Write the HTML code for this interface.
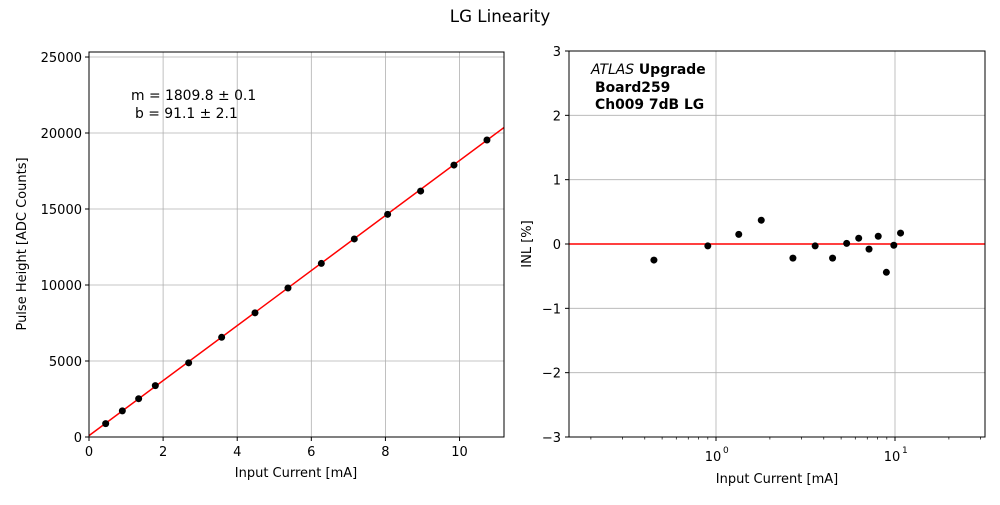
<!DOCTYPE html>
<html><head><meta charset="utf-8"><style>
body{margin:0;background:#fff;width:1000px;height:500px;overflow:hidden}
text{font-family:"DejaVu Sans","Liberation Sans",sans-serif;font-size:13px;fill:#000}
</style></head><body>
<svg id="chart" width="1000" height="500" xmlns="http://www.w3.org/2000/svg">
<text x="500" y="22" text-anchor="middle" style="font-size:16.7px">LG Linearity</text>
<g id="left"></g>
<g id="right"></g>
</svg>
<script>
const currents=[0.45,0.9,1.34,1.79,2.69,3.58,4.48,5.37,6.27,7.16,8.06,8.95,9.85,10.74];
const slope=1809.8, intercept=91.1;
const pulseHeights=[880,1720,2520,3380,4880,6560,8170,9800,11420,13030,14650,16180,17890,19540];
const inlValues=[-0.25,-0.03,0.15,0.37,-0.22,-0.03,-0.22,0.01,0.09,-0.08,0.12,-0.44,-0.02,0.17];
const leftXTicks=[0,2,4,6,8,10];
const leftYTicks=[0,5000,10000,15000,20000,25000];
const rightYTicks=[-3,-2,-1,0,1,2,3];
const rightYLabels=["\u22123","\u22122","\u22121","0","1","2","3"];
const NS="http://www.w3.org/2000/svg";
function mk(p,t,a){const e=document.createElementNS(NS,t);for(const k in a)e.setAttribute(k,a[k]);p.appendChild(e);return e;}
// Left panel
const L=document.getElementById('left');
const lx=v=>89+(v-0)/(11.2)*(504-89);
const ly=v=>437-v/25330*(437-52);
for(const t of leftXTicks){const X=lx(t);
 const g=mk(L,'line',{x1:X,x2:X,y1:52,y2:437,stroke:'#b0b0b0','stroke-width':0.8});
 mk(L,'line',{x1:X,x2:X,y1:437,y2:441,stroke:'#000'});
 const tx=mk(L,'text',{x:X,y:456,'text-anchor':'middle'});tx.textContent=t;}
for(const t of leftYTicks){const Y=ly(t);
 const g=mk(L,'line',{x1:89,x2:504,y1:Y,y2:Y,stroke:'#b0b0b0','stroke-width':0.8});
 mk(L,'line',{x1:85,x2:89,y1:Y,y2:Y,stroke:'#000'});
 const tx=mk(L,'text',{x:82,y:Y+5,'text-anchor':'end'});tx.textContent=t;}
const fit=mk(L,'line',{x1:lx(0),y1:ly(intercept),x2:lx(11.2),y2:ly(slope*11.2+intercept),stroke:'red','stroke-width':1.5});

currents.forEach((c,i)=>{const p=mk(L,'circle',{cx:lx(c),cy:ly(pulseHeights[i]),r:3.5,fill:'#000'});
 });
const fr=mk(L,'rect',{x:89,y:52,width:415,height:385,fill:'none',stroke:'#000','stroke-width':1});

let t1=mk(L,'text',{x:131,y:100,style:'font-size:13.9px'});t1.textContent='m = 1809.8 \u00b1 0.1';
let t2=mk(L,'text',{x:135,y:118,style:'font-size:13.9px'});t2.textContent='b = 91.1 \u00b1 2.1';
let xl=mk(L,'text',{x:296,y:477,'text-anchor':'middle'});xl.textContent='Input Current [mA]';
let yl=mk(L,'text',{x:26,y:244,'text-anchor':'middle',transform:'rotate(-90 26 244)'});yl.textContent='Pulse Height [ADC Counts]';
// Right panel
const R=document.getElementById('right');
const rx=v=>716+Math.log10(v)*179;
const ry=v=>244-v*(386/6);
for(const t of rightYTicks){const Y=ry(t);
 const g=mk(R,'line',{x1:569,x2:985,y1:Y,y2:Y,stroke:'#b0b0b0','stroke-width':0.8});
 mk(R,'line',{x1:565,x2:569,y1:Y,y2:Y,stroke:'#000'});
 const tx=mk(R,'text',{x:561,y:Y+5,'text-anchor':'end'});tx.textContent=rightYLabels[rightYTicks.indexOf(t)];}
for(const d of [0,1]){const X=rx(Math.pow(10,d));
 const g=mk(R,'line',{x1:X,x2:X,y1:51,y2:437,stroke:'#b0b0b0','stroke-width':0.8});
 mk(R,'line',{x1:X,x2:X,y1:437,y2:441,stroke:'#000'});
 const tx=mk(R,'text',{x:X-3,y:461,'text-anchor':'middle'});tx.textContent='10';
 const sp=mk(R,'text',{x:X+7,y:453,style:'font-size:9px'});sp.textContent=d;}
for(const dec of [0.1,1,10]){for(let k=2;k<=9;k++){const v=dec*k;if(v<0.151||v>31.8)continue;const X=rx(v);mk(R,'line',{x1:X,x2:X,y1:437,y2:439.5,stroke:'#000','stroke-width':0.7});}}
const zl=mk(R,'line',{x1:569,x2:985,y1:ry(0),y2:ry(0),stroke:'red','stroke-width':1.5});

currents.forEach((c,i)=>{const p=mk(R,'circle',{cx:rx(c),cy:ry(inlValues[i]),r:3.5,fill:'#000'});
 });
const fr2=mk(R,'rect',{x:569,y:51,width:416,height:386,fill:'none',stroke:'#000','stroke-width':1});

const lab=mk(R,'text',{x:591,y:74,'font-weight':'bold',style:'font-size:13.9px'});
lab.innerHTML='<tspan font-style="italic" font-weight="normal">ATLAS</tspan> Upgrade';
let b1=mk(R,'text',{x:595,y:92,'font-weight':'bold',style:'font-size:13.9px'});b1.textContent='Board259';
let b2=mk(R,'text',{x:595,y:109,'font-weight':'bold',style:'font-size:13.9px'});b2.textContent='Ch009 7dB LG';
let xl2=mk(R,'text',{x:777,y:483,'text-anchor':'middle'});xl2.textContent='Input Current [mA]';
let yl2=mk(R,'text',{x:531,y:244,'text-anchor':'middle',transform:'rotate(-90 531 244)'});yl2.textContent='INL [%]';
</script>
</body></html>
